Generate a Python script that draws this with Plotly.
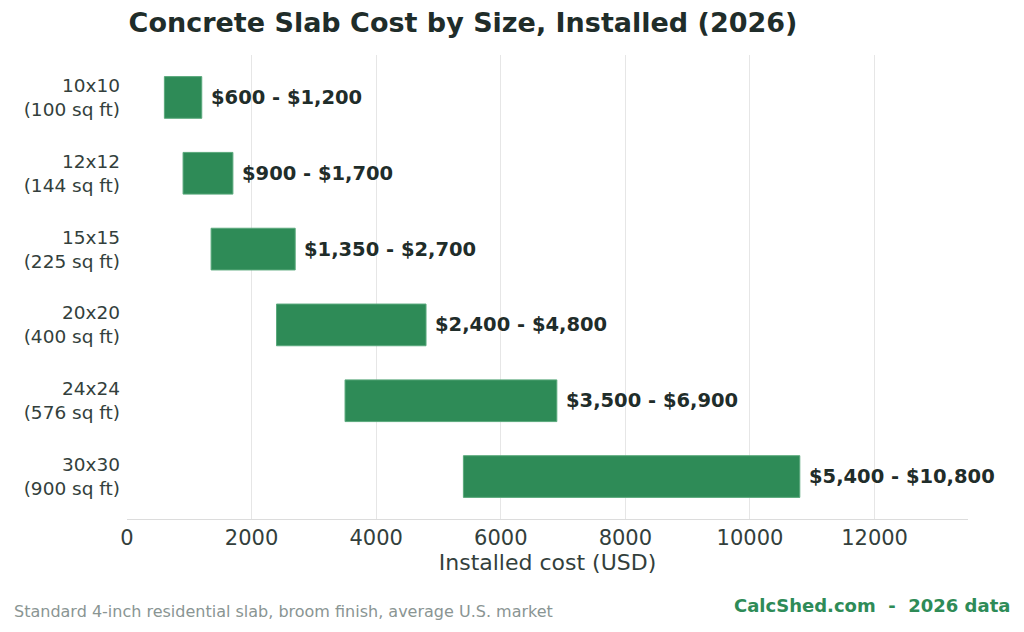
import plotly.graph_objects as go

sizes = ["10x10<br>(100 sq ft)", "12x12<br>(144 sq ft)", "15x15<br>(225 sq ft)",
         "20x20<br>(400 sq ft)", "24x24<br>(576 sq ft)", "30x30<br>(900 sq ft)"]
low = [600, 900, 1350, 2400, 3500, 5400]
high = [1200, 1700, 2700, 4800, 6900, 10800]
labels = ["$600 - $1,200", "$900 - $1,700", "$1,350 - $2,700",
          "$2,400 - $4,800", "$3,500 - $6,900", "$5,400 - $10,800"]
x_ticks = [0, 2000, 4000, 6000, 8000, 10000, 12000]

GREEN = "#2e8b57"
DARK = "#1f2d2a"
FONT = "DejaVu Sans"

fig = go.Figure()
fig.add_trace(go.Bar(
    y=sizes,
    x=[h - l for l, h in zip(low, high)],
    base=low,
    orientation="h",
    width=0.55,
    marker=dict(color=GREEN, line=dict(color="#5aa97c", width=1)),
    hoverinfo="skip",
))

for s, h, t in zip(sizes, high, labels):
    fig.add_annotation(x=h, y=s, text="<b>" + t + "</b>", showarrow=False,
                       xanchor="left", xshift=7, yanchor="middle",
                       font=dict(family=FONT, size=19.5, color=DARK))

fig.update_layout(
    width=1024, height=632,
    margin=dict(l=127, r=56, t=55, b=113),
    plot_bgcolor="white", paper_bgcolor="white",
    showlegend=False,
    font=dict(family=FONT, color="#333f3c"),
    title=dict(text="<b>Concrete Slab Cost by Size, Installed (2026)</b>",
               x=463 / 1024, xanchor="center", y=1 - 23 / 632, yanchor="middle",
               font=dict(family=FONT, size=27, color=DARK)),
    xaxis=dict(range=[0, 13500], tickvals=x_ticks, tickformat="d",
               showgrid=True, gridcolor="#e6e6e6", gridwidth=1,
               zeroline=False, showline=True, linecolor="#dcdcdc", linewidth=1,
               ticks="", ticklabelstandoff=0,
               tickfont=dict(family=FONT, size=21, color="#333f3c"),
               title=dict(text="Installed cost (USD)", standoff=4,
                          font=dict(family=FONT, size=22, color="#333f3c"))),
    yaxis=dict(range=[5.56, -0.56], showgrid=False, zeroline=False, showline=False,
               ticks="", ticklabelstandoff=6,
               tickfont=dict(family=FONT, size=18.5, color="#333f3c")),
)

fig.add_annotation(xref="paper", yref="paper", x=-115 / 841, y=-(611 - 519) / 464,
                   xanchor="left", yanchor="middle", showarrow=False,
                   text="Standard 4-inch residential slab, broom finish, average U.S. market",
                   font=dict(family=FONT, size=16, color="#8a9593"))
fig.add_annotation(xref="paper", yref="paper", x=(1012 - 127) / 841, y=-(605 - 519) / 464,
                   xanchor="right", yanchor="middle", showarrow=False,
                   text="<b>CalcShed.com  -  2026 data</b>",
                   font=dict(family=FONT, size=18, color=GREEN))

fig.write_html("out.html")
